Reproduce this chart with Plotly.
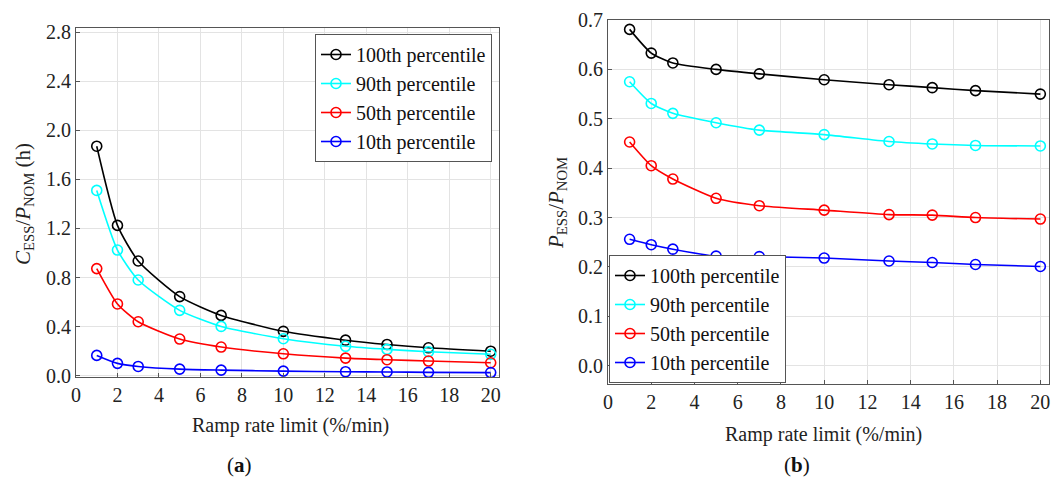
import plotly.graph_objects as go

ramp = [1, 2, 3, 5, 7, 10, 13, 15, 17, 20]
series_names = ["100th percentile", "90th percentile", "50th percentile", "10th percentile"]
colors = ["#000000", "#00FFFF", "#FF0000", "#0000FF"]

# (a) C_ESS / P_NOM (h)
cap_p100 = [1.87, 1.225, 0.935, 0.645, 0.492, 0.362, 0.29, 0.255, 0.228, 0.200]
cap_p90 = [1.51, 1.024, 0.780, 0.533, 0.402, 0.302, 0.240, 0.215, 0.196, 0.175]
cap_p50 = [0.873, 0.585, 0.440, 0.299, 0.234, 0.179, 0.144, 0.131, 0.120, 0.106]
cap_p10 = [0.166, 0.101, 0.076, 0.054, 0.046, 0.038, 0.033, 0.031, 0.028, 0.026]

# (b) P_ESS / P_NOM
pow_p100 = [0.681, 0.633, 0.613, 0.600, 0.591, 0.579, 0.569, 0.563, 0.557, 0.550]
pow_p90 = [0.575, 0.531, 0.511, 0.492, 0.477, 0.468, 0.454, 0.449, 0.446, 0.445]
pow_p50 = [0.453, 0.405, 0.378, 0.339, 0.324, 0.315, 0.306, 0.305, 0.300, 0.297]
pow_p10 = [0.256, 0.245, 0.236, 0.222, 0.221, 0.218, 0.212, 0.209, 0.205, 0.201]

x_ticks = list(range(0, 21, 2))
cap_ticks = [0.0, 0.4, 0.8, 1.2, 1.6, 2.0, 2.4, 2.8]
pow_ticks = [0.0, 0.1, 0.2, 0.3, 0.4, 0.5, 0.6, 0.7]

FONT = "Liberation Serif"
W, H = 1062, 486

fig = go.Figure()

for name, col, ys in zip(series_names, colors, [cap_p100, cap_p90, cap_p50, cap_p10]):
    fig.add_trace(go.Scatter(
        x=ramp, y=ys, name=name, mode="lines+markers",
        line=dict(color=col, width=1.6, shape="spline", smoothing=0.6),
        marker=dict(symbol="circle-open", size=10, color=col, line=dict(width=1.6)),
        xaxis="x", yaxis="y", legend="legend"))

for name, col, ys in zip(series_names, colors, [pow_p100, pow_p90, pow_p50, pow_p10]):
    fig.add_trace(go.Scatter(
        x=ramp, y=ys, name=name, mode="lines+markers",
        line=dict(color=col, width=1.6, shape="spline", smoothing=0.6),
        marker=dict(symbol="circle-open", size=10, color=col, line=dict(width=1.6)),
        xaxis="x2", yaxis="y2", legend="legend2"))

axis_common = dict(
    showgrid=True, gridcolor="#e3e3e3", gridwidth=1,
    showline=True, linecolor="#555555", linewidth=1, mirror=True,
    ticks="inside", ticklen=4, tickcolor="#555555",
    zeroline=False, automargin=False,
    tickfont=dict(family=FONT, size=20, color="#222222"),
)

def px_x(a, b):
    return [a / W, b / W]

def px_y(top, bottom):
    return [1 - bottom / H, 1 - top / H]

fig.update_layout(
    template="none",
    width=W, height=H,
    paper_bgcolor="white", plot_bgcolor="white",
    margin=dict(l=0, r=0, t=0, b=0, pad=0),
    font=dict(family=FONT, size=20, color="#222222"),
    xaxis=dict(domain=px_x(76, 499), range=[0, 20.4], tickvals=x_ticks, anchor="y", **axis_common),
    yaxis=dict(domain=px_y(28, 377), range=[-0.01, 2.833], tickvals=cap_ticks, tickformat=".1f", anchor="x", **axis_common),
    xaxis2=dict(domain=px_x(608, 1049), range=[0, 20.4], tickvals=x_ticks, anchor="y2", **axis_common),
    yaxis2=dict(domain=px_y(20, 384), range=[-0.037, 0.7], tickvals=pow_ticks, tickformat=".1f", anchor="x2", **axis_common),
    legend=dict(x=492 / W, y=1 - 34 / H, xanchor="right", yanchor="top",
                bgcolor="white", bordercolor="#555555", borderwidth=1,
                font=dict(family=FONT, size=20, color="#111111"),
                tracegroupgap=0, itemwidth=30),
    legend2=dict(x=609 / W, y=1 - 383 / H, xanchor="left", yanchor="bottom",
                 bgcolor="white", bordercolor="#555555", borderwidth=1,
                 font=dict(family=FONT, size=20, color="#111111"),
                 tracegroupgap=0, itemwidth=30),
    showlegend=True,
)

ann_common = dict(xref="paper", yref="paper", showarrow=False, xanchor="center", yanchor="middle")
annotations = [
    dict(text="Ramp rate limit (%/min)", x=291 / W, y=1 - 425 / H,
         font=dict(family=FONT, size=20, color="#222222"), **ann_common),
    dict(text="Ramp rate limit (%/min)", x=823 / W, y=1 - 434 / H,
         font=dict(family=FONT, size=20, color="#222222"), **ann_common),
    dict(text="<i>C</i><sub>ESS</sub>/<i>P</i><sub>NOM</sub> (h)", x=24 / W, y=1 - 204 / H,
         textangle=-90, font=dict(family=FONT, size=21, color="#222222"), **ann_common),
    dict(text="<i>P</i><sub>ESS</sub>/<i>P</i><sub>NOM</sub>", x=557 / W, y=1 - 203 / H,
         textangle=-90, font=dict(family=FONT, size=21, color="#222222"), **ann_common),
    dict(text="(<b>a</b>)", x=239 / W, y=1 - 465 / H,
         font=dict(family=FONT, size=21, color="#111111"), **ann_common),
    dict(text="(<b>b</b>)", x=797 / W, y=1 - 465 / H,
         font=dict(family=FONT, size=21, color="#111111"), **ann_common),
]
fig.update_layout(annotations=annotations)

fig.write_html(
    "out.html",
    config={"displayModeBar": False},
    post_script="document.body.style.margin='0';document.body.style.overflow='hidden';",
)
